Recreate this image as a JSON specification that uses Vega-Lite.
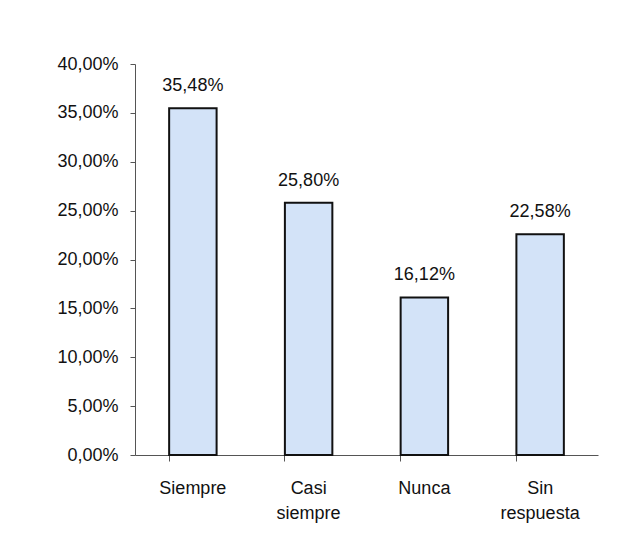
{
  "$schema": "https://vega.github.io/schema/vega-lite/v6.json",
  "autosize": "none",
  "width": 463,
  "height": 391,
  "padding": {"left": 135, "top": 64, "right": 36, "bottom": 98},
  "background": "white",
  "data": {
    "values": [
      {"categoria": "Siempre", "porcentaje": 0.3548},
      {"categoria": "Casi siempre", "porcentaje": 0.2580},
      {"categoria": "Nunca", "porcentaje": 0.1612},
      {"categoria": "Sin respuesta", "porcentaje": 0.2258}
    ]
  },
  "encoding": {
    "x": {
      "field": "categoria",
      "type": "nominal",
      "sort": null,
      "scale": {"paddingInner": 0.59, "paddingOuter": 0.295},
      "axis": {
        "title": null,
        "labelAngle": 0,
        "labelExpr": "split(datum.label, ' ')",
        "labelFontSize": 18,
        "labelLineHeight": 25,
        "labelPadding": 18,
        "labelColor": "#111",
        "bandPosition": 0,
        "tickSize": 6,
        "domainColor": "#555",
        "tickColor": "#555",
        "grid": false
      }
    },
    "y": {
      "field": "porcentaje",
      "type": "quantitative",
      "scale": {"domain": [0, 0.4], "nice": false},
      "axis": {
        "title": null,
        "format": ".2%",
        "values": [0, 0.05, 0.1, 0.15, 0.2, 0.25, 0.3, 0.35, 0.4],
        "labelFontSize": 18,
        "labelColor": "#111",
        "labelPadding": 12,
        "tickSize": 5,
        "domainColor": "#555",
        "tickColor": "#555",
        "grid": false
      }
    }
  },
  "layer": [
    {
      "mark": {"type": "bar", "fill": "#d3e3f8", "stroke": "#111", "strokeWidth": 2}
    },
    {
      "mark": {"type": "text", "baseline": "middle", "dy": -22, "fontSize": 18, "color": "#111"},
      "encoding": {
        "text": {"field": "porcentaje", "type": "quantitative", "format": ".2%"}
      }
    }
  ],
  "config": {
    "font": "Liberation Sans",
    "view": {"stroke": null},
    "locale": {
      "number": {"decimal": ",", "thousands": ".", "grouping": [3], "currency": ["", " €"]}
    }
  }
}
